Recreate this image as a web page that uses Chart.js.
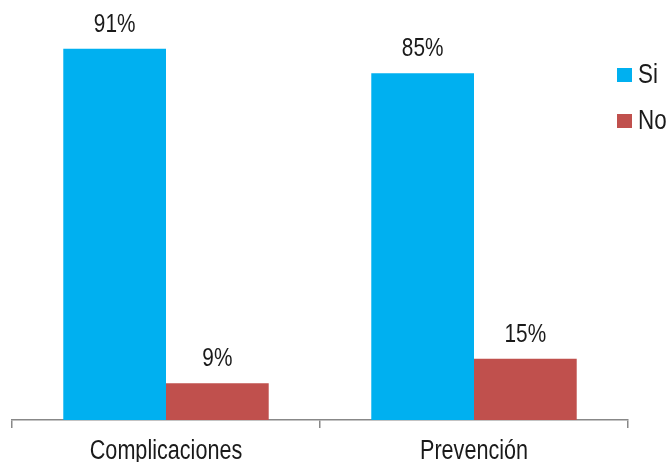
<!DOCTYPE html>
<html>
<head>
<meta charset="utf-8">
<script src="https://cdn.jsdelivr.net/npm/chart.js@4.4.0/dist/chart.umd.min.js"></script>
<style>
  html, body { margin: 0; padding: 0; background: #fff; }
  #wrap { width: 671px; height: 462px; }
</style>
</head>
<body>
<div id="wrap"><canvas id="chart" width="671" height="462"></canvas></div>
<script>
// chart data
const categories = ['Complicaciones', 'Prevención'];
const seriesNames = ['Si', 'No'];
const siValues = [91, 85];
const noValues = [9, 15];
const colors = ['#00B0F0', '#C0504D'];

const FONT = "'Liberation Sans', Arial, sans-serif";
const TEXT = '#1a1a1a';
const NARROW = 0.8; // the original font is a condensed face

// draw text squeezed horizontally around x
function narrowText(ctx, str, x, y, align) {
    ctx.save();
    ctx.translate(x, y);
    ctx.scale(NARROW, 1);
    ctx.textAlign = align;
    ctx.fillText(str, 0, 0);
    ctx.restore();
}

// percent labels above each bar + category labels under the axis
const textPlugin = {
    id: 'textPlugin',
    afterDatasetsDraw(chart) {
        const ctx = chart.ctx;
        ctx.save();
        ctx.fillStyle = TEXT;
        ctx.textBaseline = 'alphabetic';
        ctx.font = '26px ' + FONT;
        chart.data.datasets.forEach(function (ds, i) {
            chart.getDatasetMeta(i).data.forEach(function (bar, j) {
                narrowText(ctx, ds.data[j] + '%', bar.x, bar.y - 17, 'center');
            });
        });
        const xs = chart.scales.x;
        ctx.font = '27px ' + FONT;
        chart.data.labels.forEach(function (lbl, i) {
            narrowText(ctx, lbl, xs.getPixelForTick(i), xs.bottom + 31, 'center');
        });
        ctx.restore();
    }
};

// legend on the right side
const sideLegend = {
    id: 'sideLegend',
    afterDraw(chart) {
        const ctx = chart.ctx;
        ctx.save();
        ctx.font = '28px ' + FONT;
        ctx.textBaseline = 'alphabetic';
        chart.data.datasets.forEach(function (ds, i) {
            const y = 75 + i * 46;
            ctx.fillStyle = ds.backgroundColor;
            ctx.fillRect(617, y - 7, 15, 14);
            ctx.fillStyle = TEXT;
            narrowText(ctx, ds.label, 638, y + 7.5, 'left');
        });
        ctx.restore();
    }
};

const ctx = document.getElementById('chart').getContext('2d');
new Chart(ctx, {
    type: 'bar',
    data: {
        labels: categories,
        datasets: [
            { label: seriesNames[0], data: siValues, backgroundColor: colors[0] },
            { label: seriesNames[1], data: noValues, backgroundColor: colors[1] }
        ]
    },
    options: {
        responsive: false,
        animation: false,
        categoryPercentage: 0.667,
        barPercentage: 1,
        layout: { padding: { left: 12, right: 43, top: 12, bottom: 34 } },
        plugins: {
            legend: { display: false },
            tooltip: { enabled: false }
        },
        scales: {
            x: {
                grid: {
                    offset: true,
                    drawOnChartArea: false,
                    drawTicks: true,
                    tickLength: 8,
                    color: '#888888',
                    lineWidth: 1.5
                },
                border: { color: '#888888', width: 1.5 },
                ticks: { display: false }
            },
            y: {
                display: false,
                min: 0,
                max: 100
            }
        }
    },
    plugins: [textPlugin, sideLegend]
});
</script>
</body>
</html>
